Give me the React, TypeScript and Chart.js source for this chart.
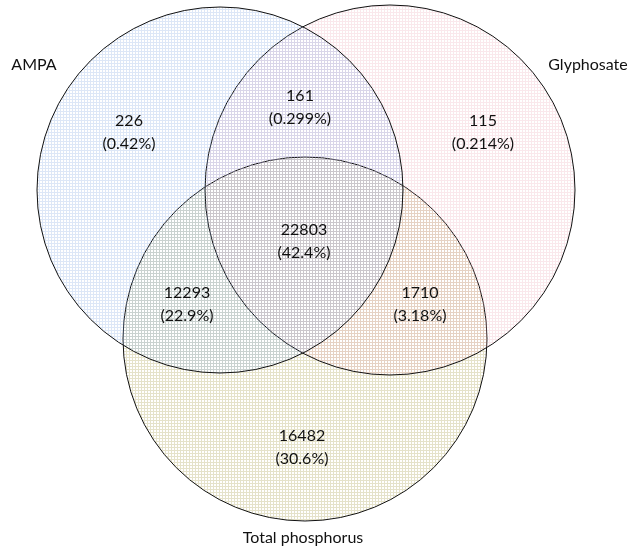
import React, { useEffect, useRef } from "react";
import { Chart, registerables } from "chart.js";

Chart.register(...registerables);

// Venn sets
const setNames = ["AMPA", "Glyphosate", "Total phosphorus"];
const setCenterX = [220, 390, 305];
const setCenterY = [190, 190, 339];
const setRadius = [183, 185, 182];
const setColors = ["rgba(130,165,225,0.27)", "rgba(235,160,175,0.24)", "rgba(170,160,80,0.3)"];
const setLabelX = [34, 588, 303];
const setLabelY = [65, 65, 538];

// Region counts
const regionCounts = [226, 161, 115, 22803, 12293, 1710, 16482];
const regionPercents = ["0.42%", "0.299%", "0.214%", "42.4%", "22.9%", "3.18%", "30.6%"];
const regionX = [129, 300, 483, 304, 187, 420, 302];
const regionY = [132, 107, 132, 241, 304, 304, 447];

function makePattern(color: string): CanvasPattern | string {
  const c = document.createElement("canvas");
  c.width = 3;
  c.height = 3;
  const g = c.getContext("2d");
  if (!g) return color;
  g.fillStyle = color;
  g.fillRect(0, 0, 3, 1);
  g.fillRect(0, 1, 1, 2);
  const p = g.createPattern(c, "repeat");
  return p || color;
}

const FONT = "Lato, 'Open Sans', 'Liberation Sans', sans-serif";

const textPlugin = {
  id: "vennText",
  afterDatasetsDraw(chart: any) {
    const { ctx, scales } = chart;
    const xs = scales.x;
    const ys = scales.y;
    ctx.save();
    ctx.fillStyle = "#111";
    ctx.textAlign = "center";
    ctx.textBaseline = "middle";
    ctx.font = `16px ${FONT}`;
    for (let i = 0; i < regionCounts.length; i++) {
      const px = xs.getPixelForValue(regionX[i]);
      const py = ys.getPixelForValue(regionY[i]);
      ctx.fillText(String(regionCounts[i]), px, py - 11.5);
      ctx.fillText(`(${regionPercents[i]})`, px, py + 11.5);
    }
    for (let i = 0; i < setNames.length; i++) {
      ctx.fillText(setNames[i], xs.getPixelForValue(setLabelX[i]), ys.getPixelForValue(setLabelY[i]));
    }
    ctx.restore();
  },
};

export default function App() {
  const ref = useRef<HTMLCanvasElement | null>(null);
  useEffect(() => {
    if (!ref.current) return;
    const datasets = setNames.map((name, i) => ({
      label: name,
      data: [{ x: setCenterX[i], y: setCenterY[i], r: setRadius[i] }],
      backgroundColor: makePattern(setColors[i]),
      borderColor: "#111",
      borderWidth: 1,
      hoverRadius: 0,
    }));
    const chart = new Chart(ref.current, {
      type: "bubble",
      data: { datasets },
      options: {
        animation: false,
        responsive: false,
        maintainAspectRatio: false,
        layout: { padding: 0, autoPadding: false },
        plugins: { legend: { display: false }, tooltip: { enabled: false } },
        events: [],
        scales: {
          x: { type: "linear", min: 0, max: 635, display: false },
          y: { type: "linear", min: 0, max: 549, reverse: true, display: false },
        },
        clip: false as any,
      },
      plugins: [textPlugin],
    });
    return () => chart.destroy();
  }, []);
  return (
    <div style={{ position: "fixed", left: 0, top: 0, width: 635, height: 549, background: "#fff" }}>
      <canvas ref={ref} width={635} height={549} style={{ width: 635, height: 549 }} />
    </div>
  );
}
